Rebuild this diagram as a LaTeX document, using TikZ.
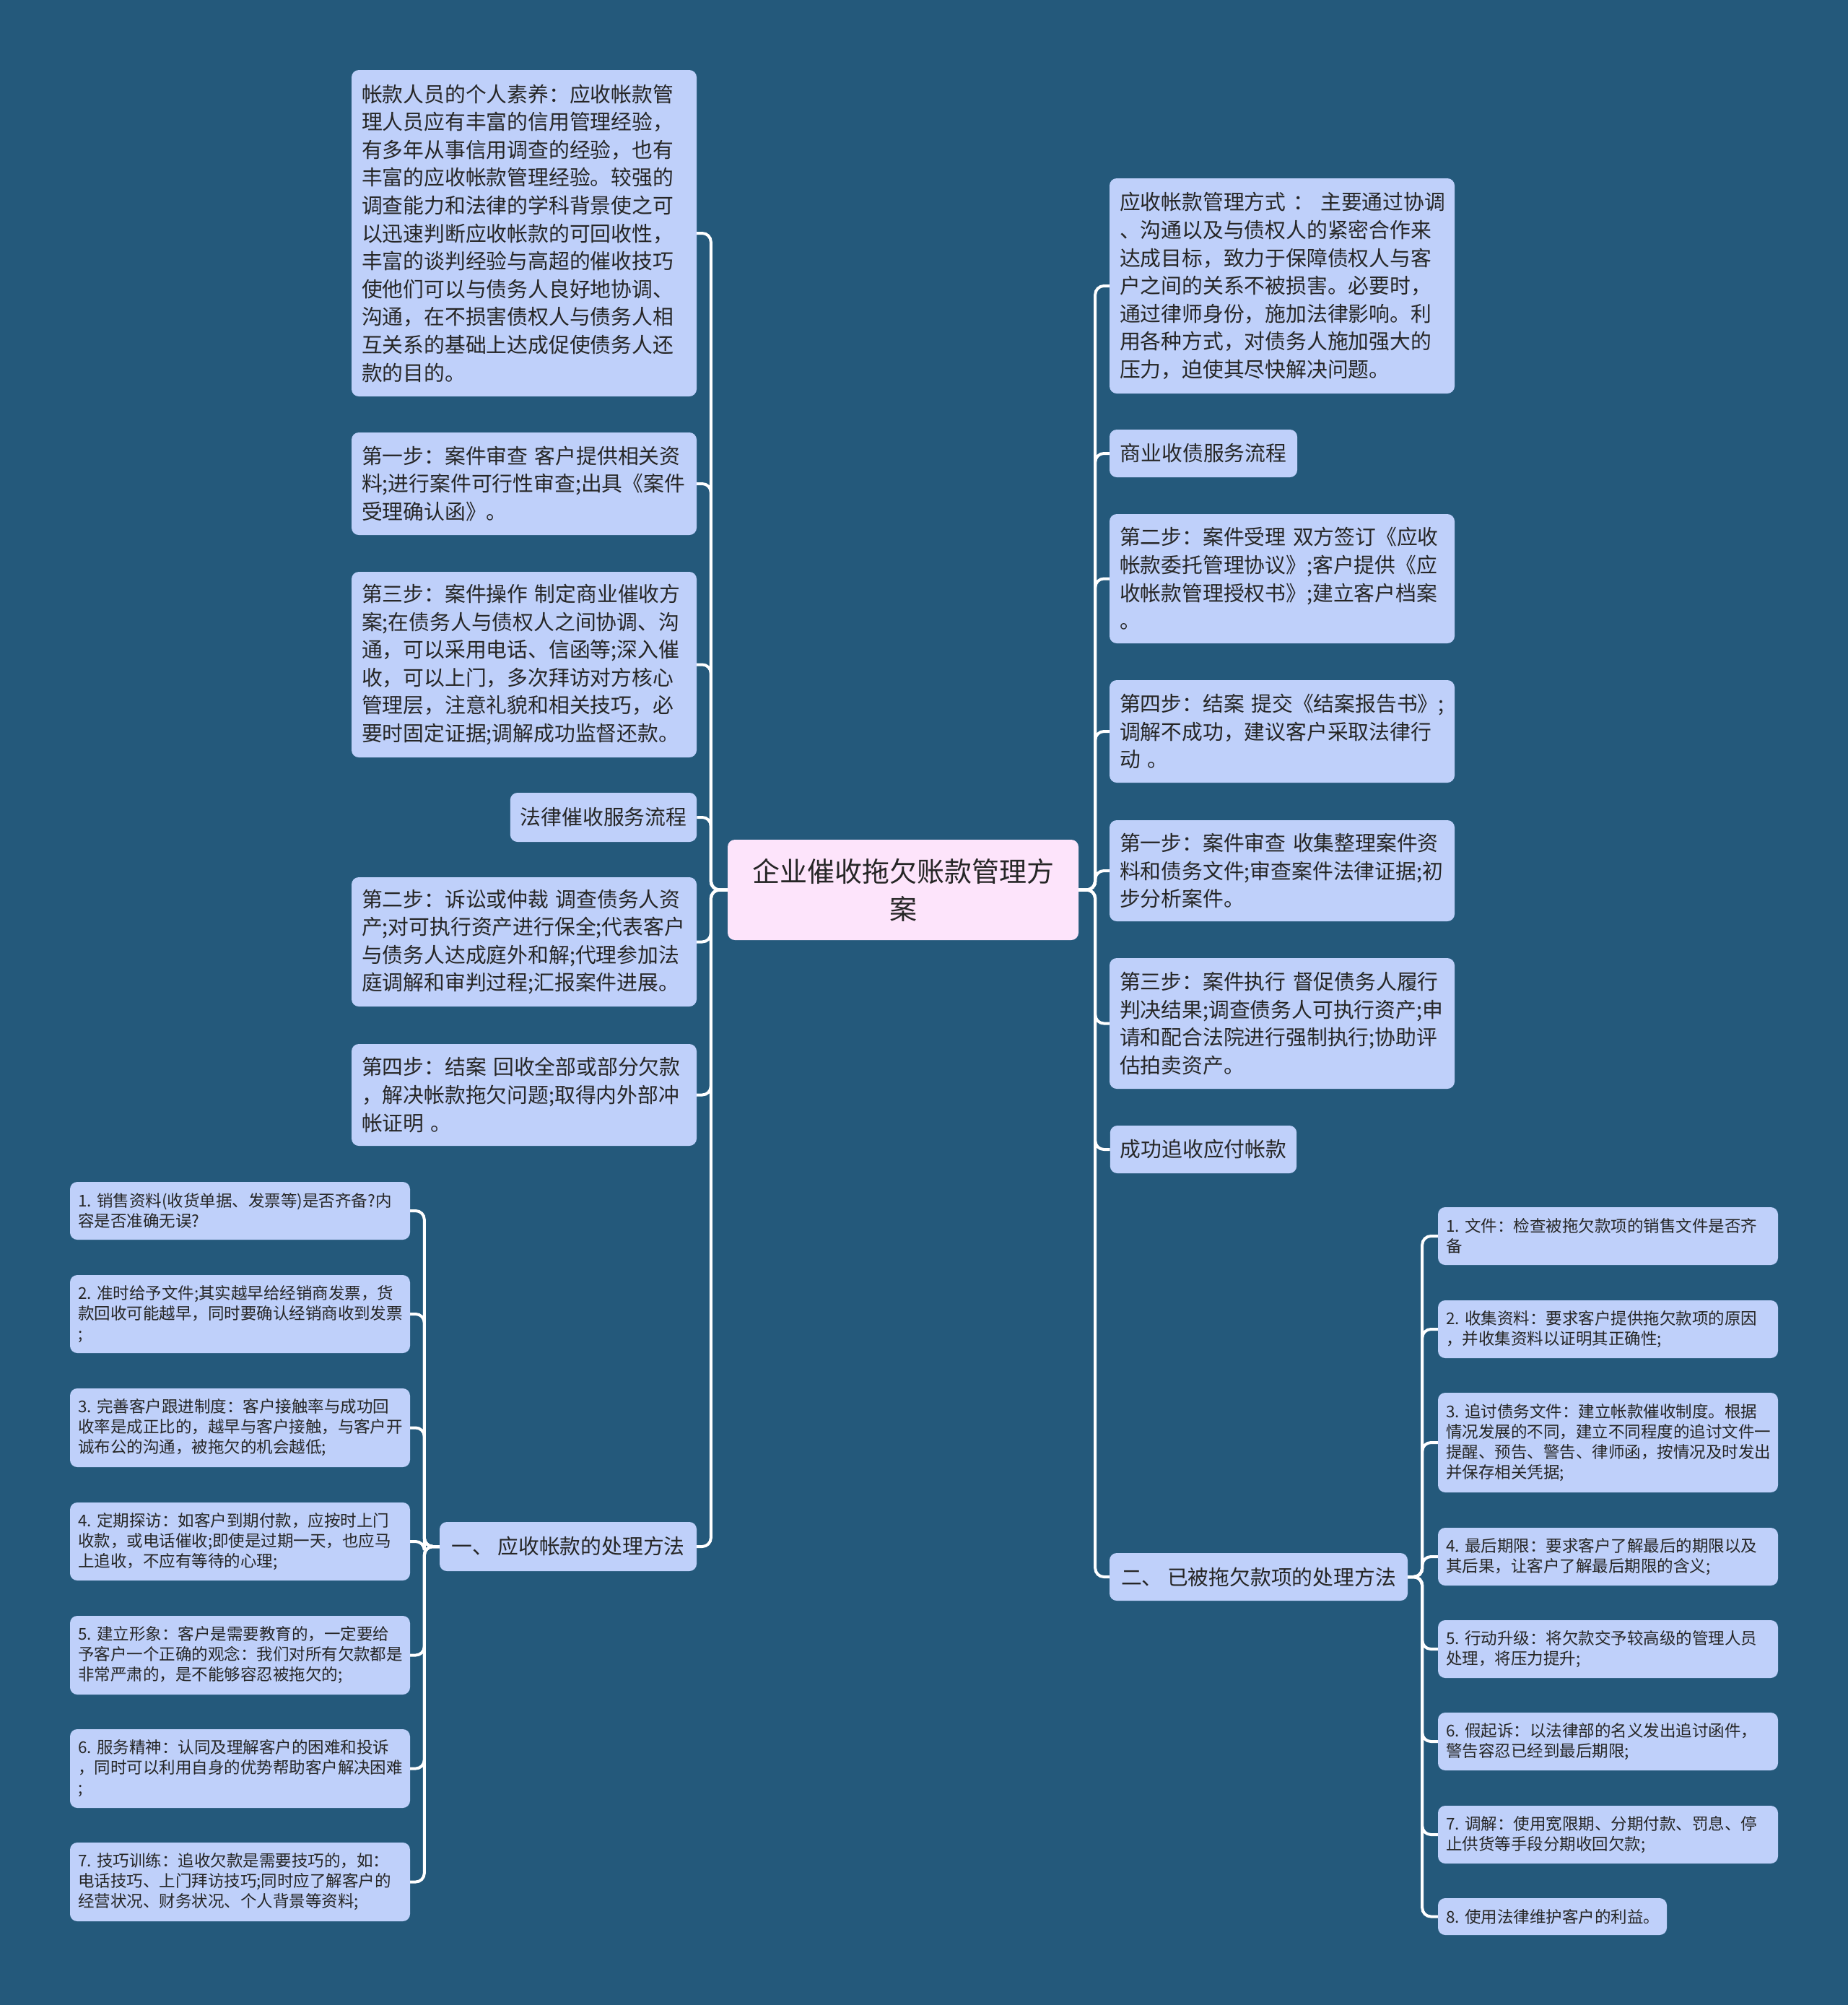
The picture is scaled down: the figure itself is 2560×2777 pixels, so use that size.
\documentclass[tikz,border=0pt]{standalone}
\usepackage{fontspec}
\newfontfamily\cjk{Noto Sans CJK SC}
\definecolor{bg}{RGB}{36,89,123}
\definecolor{boxc}{RGB}{191,208,250}
\definecolor{rootc}{RGB}{253,228,251}
\definecolor{txt}{RGB}{38,38,38}
\tikzset{
  bx/.style={fill=boxc, rounded corners=10, text=txt, font=\cjk\fontsize{28.8}{38.6}\selectfont, align=left, inner xsep=14, inner ysep=0},
  bxw/.style={bx, minimum width=478, text width=450},
  bxs/.style={bx, align=center},
  sm/.style={fill=boxc, rounded corners=10, text=txt, font=\cjk\fontsize{22.5}{28}\selectfont, align=left, inner xsep=11, inner ysep=0, text width=449, minimum width=471},
  rootbox/.style={fill=rootc, rounded corners=10, text=txt, font=\cjk\fontsize{38}{52}\selectfont, align=center, minimum width=486, minimum height=139, inner sep=0},
  conn/.style={draw=white, line width=4, rounded corners=12},
}
\begin{document}
\begin{tikzpicture}[x=1pt,y=-1pt]
\useasboundingbox (0,0) rectangle (2560,2777);
\fill[bg] (0,0) rectangle (2560,2777);

% root
\node[rootbox] (C) at (1251,1232.5) {企业催收拖欠账款管理方\\案};

% left main children
\node[bxw, minimum height=452] (L1) at (726,323) {帐款人员的个人素养：应收帐款管\\理人员应有丰富的信用管理经验，\\有多年从事信用调查的经验，也有\\丰富的应收帐款管理经验。较强的\\调查能力和法律的学科背景使之可\\以迅速判断应收帐款的可回收性，\\丰富的谈判经验与高超的催收技巧\\使他们可以与债务人良好地协调、\\沟通，在不损害债权人与债务人相\\互关系的基础上达成促使债务人还\\款的目的。};
\node[bxw, minimum height=142] (L2) at (726,670) {第一步：案件审查~客户提供相关资\\料;进行案件可行性审查;出具《案件\\受理确认函》。};
\node[bxw, minimum height=257] (L3) at (726,920.5) {第三步：案件操作~制定商业催收方\\案;在债务人与债权人之间协调、沟\\通，可以采用电话、信函等;深入催\\收，可以上门，多次拜访对方核心\\管理层，注意礼貌和相关技巧，必\\要时固定证据;调解成功监督还款。};
\node[bxs, minimum width=258, minimum height=68] (L4) at (836,1132) {法律催收服务流程};
\node[bxw, minimum height=179] (L5) at (726,1304.5) {第二步：诉讼或仲裁~调查债务人资\\产;对可执行资产进行保全;代表客户\\与债务人达成庭外和解;代理参加法\\庭调解和审判过程;汇报案件进展。};
\node[bxw, minimum height=141] (L6) at (726,1516.5) {第四步：结案~回收全部或部分欠款\\，解决帐款拖欠问题;取得内外部冲\\帐证明~。};
\node[bxs, minimum width=356, minimum height=68] (L7) at (787,2142) {一、~应收帐款的处理方法};

% right main children
\node[bxw, minimum height=298] (R1) at (1776,396) {应收帐款管理方式~：~主要通过协调\\、沟通以及与债权人的紧密合作来\\达成目标，致力于保障债权人与客\\户之间的关系不被损害。必要时，\\通过律师身份，施加法律影响。利\\用各种方式，对债务人施加强大的\\压力，迫使其尽快解决问题。};
\node[bxs, minimum width=260, minimum height=66] (R2) at (1667,628) {商业收债服务流程};
\node[bxw, minimum height=179] (R3) at (1776,801.5) {第二步：案件受理~双方签订《应收\\帐款委托管理协议》;客户提供《应\\收帐款管理授权书》;建立客户档案\\。};
\node[bxw, minimum height=142] (R4) at (1776,1013) {第四步：结案~提交《结案报告书》;\\调解不成功，建议客户采取法律行\\动~。};
\node[bxw, minimum height=140] (R5) at (1776,1206) {第一步：案件审查~收集整理案件资\\料和债务文件;审查案件法律证据;初\\步分析案件。};
\node[bxw, minimum height=181] (R6) at (1776,1417.5) {第三步：案件执行~督促债务人履行\\判决结果;调查债务人可执行资产;申\\请和配合法院进行强制执行;协助评\\估拍卖资产。};
\node[bxs, minimum width=258, minimum height=66] (R7) at (1667,1592) {成功追收应付帐款};
\node[bxs, minimum width=413, minimum height=66] (R8) at (1743.5,2184) {二、~已被拖欠款项的处理方法};

% left sub items
\node[sm, minimum height=80] (I1) at (332.5,1677) {1.~销售资料(收货单据、发票等)是否齐备?内\\容是否准确无误?};
\node[sm, minimum height=108] (I2) at (332.5,1820) {2.~准时给予文件;其实越早给经销商发票，货\\款回收可能越早，同时要确认经销商收到发票\\;};
\node[sm, minimum height=109] (I3) at (332.5,1977.5) {3.~完善客户跟进制度：客户接触率与成功回\\收率是成正比的，越早与客户接触，与客户开\\诚布公的沟通，被拖欠的机会越低;};
\node[sm, minimum height=108] (I4) at (332.5,2135) {4.~定期探访：如客户到期付款，应按时上门\\收款，或电话催收;即使是过期一天，也应马\\上追收，不应有等待的心理;};
\node[sm, minimum height=109] (I5) at (332.5,2292.5) {5.~建立形象：客户是需要教育的，一定要给\\予客户一个正确的观念：我们对所有欠款都是\\非常严肃的，是不能够容忍被拖欠的;};
\node[sm, minimum height=109] (I6) at (332.5,2449.5) {6.~服务精神：认同及理解客户的困难和投诉\\，同时可以利用自身的优势帮助客户解决困难\\;};
\node[sm, minimum height=109] (I7) at (332.5,2606.5) {7.~技巧训练：追收欠款是需要技巧的，如：\\电话技巧、上门拜访技巧;同时应了解客户的\\经营状况、财务状况、个人背景等资料;};

% right sub items
\node[sm, minimum height=80] (J1) at (2227.5,1712) {1.~文件：检查被拖欠款项的销售文件是否齐\\备};
\node[sm, minimum height=80] (J2) at (2227.5,1841) {2.~收集资料：要求客户提供拖欠款项的原因\\，并收集资料以证明其正确性;};
\node[sm, minimum height=138] (J3) at (2227.5,1998) {3.~追讨债务文件：建立帐款催收制度。根据\\情况发展的不同，建立不同程度的追讨文件一\\提醒、预告、警告、律师函，按情况及时发出\\并保存相关凭据;};
\node[sm, minimum height=80] (J4) at (2227.5,2156) {4.~最后期限：要求客户了解最后的期限以及\\其后果，让客户了解最后期限的含义;};
\node[sm, minimum height=80] (J5) at (2227.5,2284) {5.~行动升级：将欠款交予较高级的管理人员\\处理，将压力提升;};
\node[sm, minimum height=80] (J6) at (2227.5,2412) {6.~假起诉：以法律部的名义发出追讨函件，\\警告容忍已经到最后期限;};
\node[sm, minimum height=80] (J7) at (2227.5,2541) {7.~调解：使用宽限期、分期付款、罚息、停\\止供货等手段分期收回欠款;};
\node[sm, text width=295, minimum width=317, minimum height=51] (J8) at (2150.5,2654.5) {8.~使用法律维护客户的利益。};

% connectors
\foreach \n in {L1,L2,L3,L4,L5,L6,L7}
  \draw[conn] (C.west) -- ++(-23,0) |- (\n.east);
\foreach \n in {R1,R2,R3,R4,R5,R6,R7,R8}
  \draw[conn] (C.east) -- ++(23,0) |- (\n.west);
\foreach \n in {I1,I2,I3,I4,I5,I6,I7}
  \draw[conn] (L7.west) -- ++(-21,0) |- (\n.east);
\foreach \n in {J1,J2,J3,J4,J5,J6,J7,J8}
  \draw[conn] (R8.east) -- ++(20,0) |- (\n.west);
\end{tikzpicture}
\end{document}
